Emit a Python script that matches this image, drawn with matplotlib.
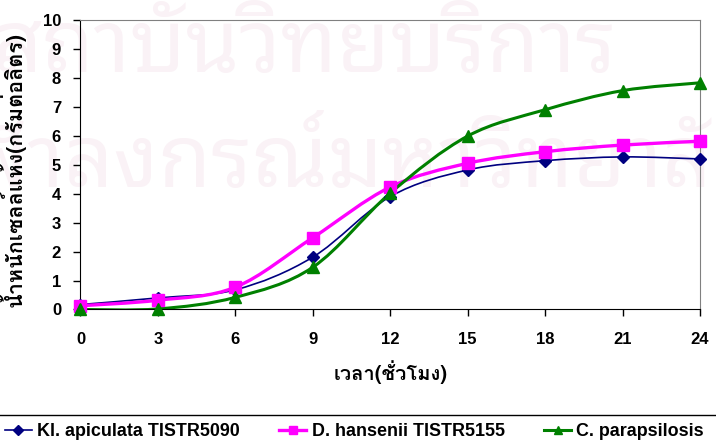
import matplotlib
matplotlib.use("Agg")
import matplotlib.pyplot as plt
from matplotlib.lines import Line2D
from matplotlib.patches import PathPatch
from matplotlib.path import Path

# dry cell weight (g/L) sampled every 3 h
hours = [0, 3, 6, 9, 12, 15, 18, 21, 24]
kl_apiculata = [0.17, 0.40, 0.68, 1.81, 3.90, 4.82, 5.14, 5.27, 5.20]
d_hansenii = [0.13, 0.32, 0.77, 2.48, 4.23, 5.05, 5.45, 5.68, 5.81]
c_parapsilosis = [0.0, 0.02, 0.42, 1.46, 4.02, 5.99, 6.90, 7.56, 7.83]

series_names = ["Kl. apiculata TISTR5090", "D. hansenii TISTR5155", "C. parapsilosis"]
xlabel = "เวลา(ชั่วโมง)"
ylabel = "น้ำหนักเซลล์แห้ง(กรัมต่อลิตร)"
watermark = ["สถาบันวิทยบริการ", "จุฬาลงกรณ์มหาวิทยาลัย"]

LATIN = ["Liberation Sans", "DejaVu Sans"]
THAI = ["Loma", "DejaVu Sans"]


def smooth_path(xs, ys):
    """Excel-style smoothed line: cubic Bezier segments through the points."""
    pts = list(zip(xs, ys))
    verts = [pts[0]]
    codes = [Path.MOVETO]
    n = len(pts)
    for i in range(n - 1):
        p0 = pts[i - 1] if i > 0 else pts[i]
        p1, p2 = pts[i], pts[i + 1]
        p3 = pts[i + 2] if i + 2 < n else pts[i + 1]
        c1 = (p1[0] + (p2[0] - p0[0]) / 6, p1[1] + (p2[1] - p0[1]) / 6)
        c2 = (p2[0] - (p3[0] - p1[0]) / 6, p2[1] - (p3[1] - p1[1]) / 6)
        verts += [c1, c2, p2]
        codes += [Path.CURVE4] * 3
    return Path(verts, codes)


fig = plt.figure(figsize=(7.16, 4.42), dpi=100)

# faint library watermark behind the chart
wm = dict(family=["Noto Sans Thai Looped", "Loma"], fontsize=62,
          color="#faf2f6", va="baseline", ha="right", zorder=-1)
fig.text(0.862, 0.837, watermark[0], **wm)
fig.text(1.068, 0.577, watermark[1], **wm)

ax = fig.add_axes([0.1124, 0.2998, 0.8653, 0.655])
ax.set_facecolor("none")

styles = [
    dict(color="#000080", lw=1.2, marker="D", ms=6.5),
    dict(color="#ff00ff", lw=2.4, marker="s", ms=8),
    dict(color="#008000", lw=2.2, marker="^", ms=8.5),
]
handles = []
for ys, st in zip([kl_apiculata, d_hansenii, c_parapsilosis], styles):
    ax.add_patch(PathPatch(smooth_path(hours, ys), fill=False,
                           edgecolor=st["color"], lw=st["lw"], zorder=2))
    ax.plot(hours, ys, ls="none", marker=st["marker"], ms=st["ms"],
            color=st["color"], zorder=3, clip_on=False)
    handles.append(Line2D([], [], color=st["color"], lw=st["lw"],
                          marker=st["marker"], ms=st["ms"] * 0.75))

ax.set_xlim(0, 24)
ax.set_ylim(0, 10)
ax.set_xticks(hours)
ax.set_yticks(range(0, 11))
ax.tick_params(direction="out", length=5, width=1, pad=11, labelsize=12)
ax.tick_params(axis="y", pad=9)
for lab in ax.get_xticklabels() + ax.get_yticklabels():
    lab.set_family(LATIN)
    lab.set_fontweight("bold")
for side in ("top", "right"):
    ax.spines[side].set_color("#808080")
for side in ("left", "bottom"):
    ax.spines[side].set_color("#000000")

ax.set_xlabel(xlabel, family=THAI, fontsize=14.5, weight="bold", labelpad=10)
ax.set_ylabel(ylabel, family=THAI, fontsize=15.5, weight="bold", va="center")
ax.yaxis.set_label_coords(-0.11, 0.485)

# separator above the legend
fig.add_artist(Line2D([0, 1], [0.061, 0.061], color="black", lw=1,
                      transform=fig.transFigure))
fig.legend(handles, series_names, loc="center left",
           bbox_to_anchor=(0.007, 0.024), ncol=3, frameon=False,
           borderpad=0, borderaxespad=0, handlelength=1.5,
           handletextpad=0.3, columnspacing=2.2,
           prop=dict(family=LATIN, weight="bold", size=12.9))

fig.savefig("out.png", dpi=100)
